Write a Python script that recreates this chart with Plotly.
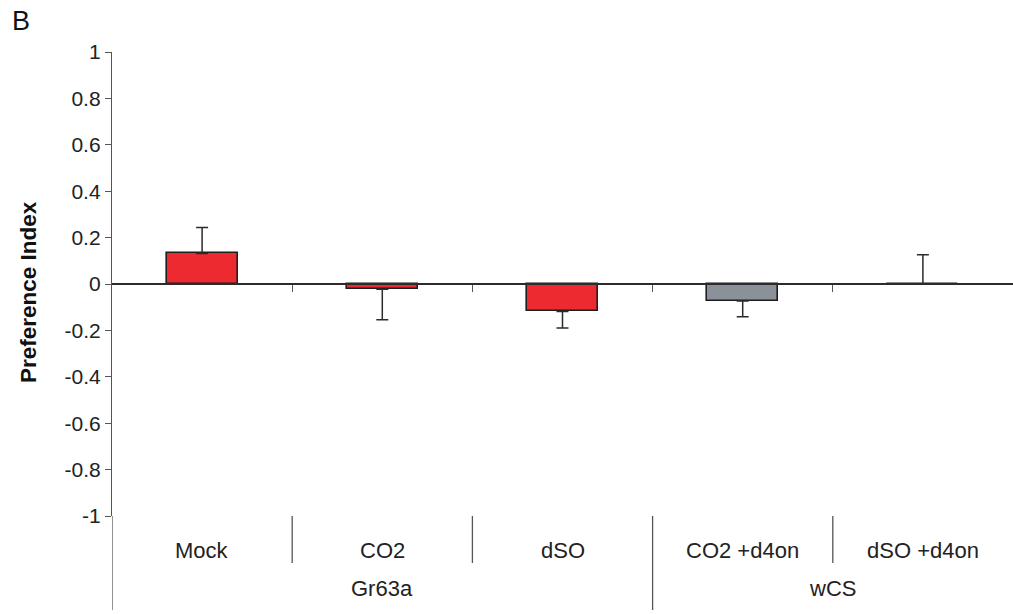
import plotly.graph_objects as go

# Preference index per condition, with one-sided error bars
conditions = ["Mock", "CO2", "dSO", "CO2 +d4on", "dSO +d4on"]
groups = ["Gr63a", "wCS"]
group_sizes = [3, 2]
pref_index = [0.132, -0.023, -0.118, -0.073, 0.0]
pref_error = [0.111, 0.131, 0.072, 0.068, 0.126]
bar_colors = ["#ED2A2F", "#ED2A2F", "#ED2A2F", "#8B9198", "#ED2A2F"]

y_ticks = [1, 0.8, 0.6, 0.4, 0.2, 0, -0.2, -0.4, -0.6, -0.8, -1]
y_ticktext = ["1", "0.8", "0.6", "0.4", "0.2", "0", "-0.2", "-0.4", "-0.6", "-0.8", "-1"]

FONT = "Liberation Sans, Arial, sans-serif"
INK = "#2b2b2b"
W, H = 1013, 614
ML, MR, MT, MB = 112, 0, 52, 98
plot_w = W - ML - MR
plot_h = H - MT - MB

xpos = list(range(len(conditions)))
err_up = [e if v >= 0 else 0 for v, e in zip(pref_index, pref_error)]
err_down = [e if v < 0 else 0 for v, e in zip(pref_index, pref_error)]

fig = go.Figure()
fig.add_trace(go.Bar(
    x=xpos,
    y=pref_index,
    width=0.395,
    marker=dict(color=bar_colors, line=dict(color="#1e1e1e", width=1.6)),
    error_y=dict(type="data", symmetric=False, array=err_up, arrayminus=err_down,
                 color=INK, thickness=1.5, width=6),
    showlegend=False,
))


def py(px):
    """Pixel row below the plot area -> paper y."""
    return -(px - (MT + plot_h)) / plot_h


def px_x(px):
    return (px - ML) / plot_w


annotations = []
for i, name in enumerate(conditions):
    annotations.append(dict(x=i, y=py(550), xref="x", yref="paper", text=name,
                            showarrow=False, xanchor="center", yanchor="middle",
                            font=dict(family=FONT, size=22, color="#222")))

shapes = []
start = 0
for g, n in zip(groups, group_sizes):
    center = start + (n - 1) / 2
    annotations.append(dict(x=center, y=py(588), xref="x", yref="paper", text=g,
                            showarrow=False, xanchor="center", yanchor="middle",
                            font=dict(family=FONT, size=22, color="#222")))
    # long divider at the start of each group
    shapes.append(dict(type="line", xref="x", yref="paper",
                       x0=start - 0.5, x1=start - 0.5, y0=0, y1=py(610),
                       line=dict(color="#555", width=1.3)))
    # short dividers between conditions inside a group
    for k in range(1, n):
        b = start + k - 0.5
        shapes.append(dict(type="line", xref="x", yref="paper",
                           x0=b, x1=b, y0=0, y1=py(563),
                           line=dict(color="#555", width=1.3)))
    start += n

annotations.append(dict(x=px_x(28), y=py(292), xref="paper", yref="paper",
                        text="<b>Preference Index</b>", textangle=-90,
                        showarrow=False, xanchor="center", yanchor="middle",
                        font=dict(family=FONT, size=22.5, color="#111")))
annotations.append(dict(x=px_x(10), y=1 + (MT - 21) / plot_h, xref="paper", yref="paper",
                        text="B", showarrow=False, xanchor="left", yanchor="middle",
                        font=dict(family=FONT, size=27, color="#111")))

fig.update_layout(
    width=W, height=H,
    margin=dict(l=ML, r=MR, t=MT, b=MB),
    paper_bgcolor="white", plot_bgcolor="white",
    bargap=0,
    annotations=annotations,
    shapes=shapes,
    xaxis=dict(
        range=[-0.5, len(conditions) - 0.5],
        anchor="free", position=0.5, side="bottom",
        showline=True, linecolor=INK, linewidth=1.5,
        tickvals=[i + 0.5 for i in range(len(conditions) - 1)],
        ticks="outside", ticklen=7, tickwidth=1.3, tickcolor="#555",
        showticklabels=False, showgrid=False, zeroline=False,
    ),
    yaxis=dict(
        range=[-1, 1],
        tickvals=y_ticks, ticktext=y_ticktext,
        ticks="outside", ticklen=6, tickwidth=1.3, tickcolor="#555",
        showline=True, linecolor="#555", linewidth=1.3,
        showgrid=False, zeroline=False,
        tickfont=dict(family=FONT, size=21, color="#222"),
    ),
)

fig.write_html("out.html")
